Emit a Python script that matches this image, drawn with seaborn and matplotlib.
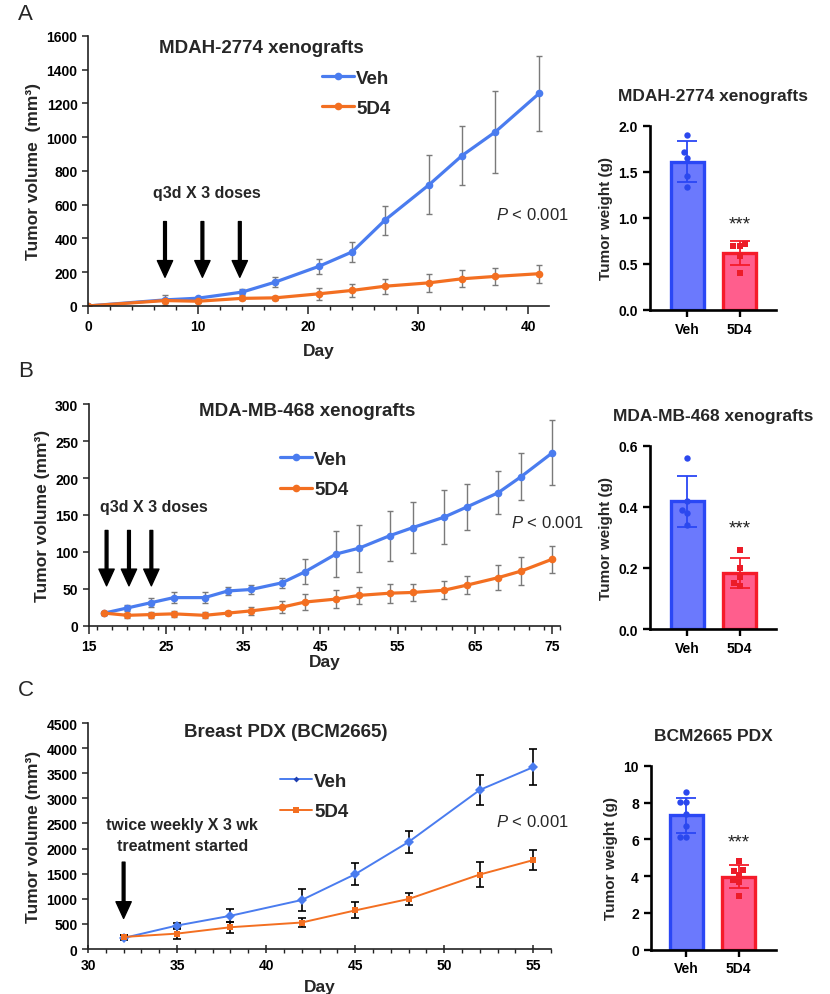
import numpy as np
import pandas as pd
import matplotlib
matplotlib.use('Agg')
import matplotlib.pyplot as plt
import seaborn as sns
from matplotlib.ticker import MultipleLocator

sns.set_style('ticks')
plt.rcParams['font.family'] = ['Liberation Sans', 'DejaVu Sans']
plt.rcParams['font.weight'] = 'bold'
plt.rcParams['axes.labelweight'] = 'bold'
plt.rcParams['mathtext.fontset'] = 'custom'
plt.rcParams['mathtext.it'] = 'Liberation Sans:italic:normal'
plt.rcParams['mathtext.rm'] = 'Liberation Sans:normal'

# ---- data ----
groups = ['Veh', '5D4']

# A: MDAH-2774 tumor volume
days_a = [0, 7, 10, 14, 17, 21, 24, 27, 31, 34, 37, 41]
veh_a = [0, 36, 46, 82, 141, 235, 320, 509, 718, 891, 1030, 1259]
veh_a_err = [0, 28, 10, 18, 30, 44, 60, 86, 175, 174, 242, 222]
d4_a = [0, 32, 28, 45, 48, 72, 92, 117, 137, 161, 175, 191]
d4_a_err = [0, 12, 8, 10, 10, 35, 40, 44, 52, 50, 52, 54]

# B: MDA-MB-468 tumor volume
days_b = [17, 20, 23, 26, 30, 33, 36, 40, 43, 47, 50, 54, 57, 61, 64, 68, 71, 75]
veh_b = [17, 24, 31, 38, 38, 47, 49, 58, 73, 97, 105, 122, 133, 147, 161, 180, 202, 234]
veh_b_err = [2, 4, 6, 7, 7, 6, 6, 7, 17, 31, 32, 34, 35, 37, 31, 29, 32, 44]
d4_b = [17, 14, 15, 16, 14, 17, 20, 25, 32, 36, 41, 44, 45, 48, 55, 65, 74, 90]
d4_b_err = [2, 3, 4, 4, 4, 3, 5, 8, 11, 12, 12, 13, 12, 12, 12, 17, 19, 18]

# C: BCM2665 PDX tumor volume
days_c = [32, 35, 38, 42, 45, 48, 52, 55]
veh_c = [220, 468, 662, 976, 1490, 2133, 3169, 3623]
veh_c_err = [50, 60, 127, 210, 215, 220, 300, 360]
d4_c = [240, 307, 434, 528, 769, 996, 1484, 1771]
d4_c_err = [40, 110, 110, 94, 160, 114, 240, 195]

# tumor weights (individual animals)
wt_a_veh = [1.90, 1.71, 1.65, 1.45, 1.33]
wt_a_d4 = [0.72, 0.69, 0.69, 0.58, 0.40]
wt_b_veh = [0.56, 0.42, 0.39, 0.38, 0.34]
wt_b_d4 = [0.26, 0.20, 0.17, 0.15, 0.14]
wt_c_veh = [8.57, 8.04, 8.04, 7.39, 6.73, 6.15, 6.15]
wt_c_d4 = [4.81, 4.30, 4.28, 4.05, 3.79, 3.65, 2.89]

line_cols = {'Veh': '#4A7CEF', '5D4': '#F36F21'}
bar_fill = {'Veh': '#6B79FD', '5D4': '#FF5E8D'}
bar_edge = {'Veh': '#2A47F5', '5D4': '#F51B2A'}
dot_cols = {'Veh': '#2B48EE', '5D4': '#EC1C28'}

fig = plt.figure(figsize=(8.3, 9.95), dpi=100)


def volume_panel(rect, days, veh, veh_err, d4, d4_err, xlim, ylim, xticks, xmin, ymaj,
                 xlabpad, thin=False):
    ax = fig.add_axes(rect)
    df = pd.DataFrame({'Day': days * 2, 'vol': veh + d4,
                       'group': ['Veh'] * len(days) + ['5D4'] * len(days)})
    if thin:
        ecol, elw = 'black', 1.2
    else:
        ecol, elw = '#7a7a7a', 1.0
    for vals, errs in [(veh, veh_err), (d4, d4_err)]:
        ax.errorbar(days, vals, yerr=errs, fmt='none', ecolor=ecol, elinewidth=elw,
                    capsize=2.5 if not thin else 3, capthick=elw, zorder=1)
    if thin:
        sns.lineplot(data=df, x='Day', y='vol', hue='group', style='group',
                     palette=line_cols, markers={'Veh': 'D', '5D4': 's'}, dashes=False,
                     markersize=5, markeredgewidth=0, linewidth=1.4, ax=ax, zorder=2)
        # smaller, darker diamond for Veh
        ax.lines[-2].set_markersize(3)
        ax.lines[-2].set_markerfacecolor('#1f3fb0')
    else:
        sns.lineplot(data=df, x='Day', y='vol', hue='group', palette=line_cols,
                     marker='o', markersize=5.5, markeredgewidth=0, linewidth=2.3,
                     ax=ax, zorder=2)
    ax.set_xlim(*xlim)
    ax.set_ylim(*ylim)
    ax.set_xticks(xticks)
    ax.xaxis.set_minor_locator(MultipleLocator(xmin))
    ax.yaxis.set_major_locator(MultipleLocator(ymaj))
    ax.tick_params(axis='both', which='major', labelsize=10, length=4, width=1.1,
                   colors='#222222', labelcolor='black')
    ax.tick_params(axis='x', which='major', length=6, direction='inout' if thin else 'out')
    ax.tick_params(axis='x', which='minor', length=3, width=1, colors='#222222')
    for lab in ax.get_xticklabels() + ax.get_yticklabels():
        lab.set_fontweight('bold')
    for s in ['left', 'bottom']:
        ax.spines[s].set_linewidth(1.2)
        ax.spines[s].set_color('#222222')
    sns.despine(ax=ax)
    ax.set_xlabel('Day', fontsize=12.5, labelpad=xlabpad)
    return ax


def place_legend(ax, anchor):
    h, l = ax.get_legend_handles_labels()
    ax.legend(h, l, loc='upper left', bbox_to_anchor=anchor, bbox_transform=ax.transData,
              frameon=False, borderpad=0, borderaxespad=0, handlelength=1.7,
              handletextpad=0.1, labelspacing=0.7, prop={'weight': 'bold', 'size': 13.5})


def weight_panel(rect, veh_pts, d4_pts, ylim, ymaj, fmt, xlim, star_y, title, title_y):
    ax = fig.add_axes(rect)
    df = pd.DataFrame({'group': ['Veh'] * len(veh_pts) + ['5D4'] * len(d4_pts),
                       'w': veh_pts + d4_pts})
    sns.barplot(data=df, x='group', y='w', hue='group', order=groups, palette=bar_fill,
                saturation=1, errorbar=None, width=0.64, linewidth=2.4, legend=False,
                ax=ax, zorder=1)
    for patch, g in zip(ax.patches, groups):
        patch.set_edgecolor(bar_edge[g])
    for i, (g, pts) in enumerate(zip(groups, [veh_pts, d4_pts])):
        ax.errorbar(i, np.mean(pts), yerr=np.std(pts, ddof=1), fmt='none',
                    ecolor=bar_edge[g], elinewidth=1.3, capsize=7.5, capthick=1.3, zorder=3)
    sns.swarmplot(data=df[df.group == 'Veh'], x='group', y='w', order=groups,
                  color=dot_cols['Veh'], marker='o', size=4.6, ax=ax, zorder=4)
    sns.swarmplot(data=df[df.group == '5D4'], x='group', y='w', order=groups,
                  color=dot_cols['5D4'], marker='s', size=4.4, ax=ax, zorder=4)
    ax.set_xlim(*xlim)
    ax.set_ylim(*ylim)
    ax.yaxis.set_major_locator(MultipleLocator(ymaj))
    ax.yaxis.set_major_formatter(fmt)
    ax.tick_params(axis='both', labelsize=10, length=5, width=1.7, colors='black')
    for lab in ax.get_xticklabels() + ax.get_yticklabels():
        lab.set_fontweight('bold')
    for s in ['left', 'bottom']:
        ax.spines[s].set_linewidth(1.9)
        ax.spines[s].set_color('black')
    sns.despine(ax=ax)
    ax.set_xlabel('')
    ax.set_ylabel('Tumor weight (g)', fontsize=11, labelpad=4)
    ax.text(1, star_y, '***', ha='center', va='center', fontsize=13.5,
            fontweight='normal', color='#222222')
    fig.text(0.859, title_y, title, ha='center', va='center', fontsize=12.5,
             fontweight='bold')
    return ax


def arrow(ax, x, top, tip):
    ax.annotate('', xy=(x, tip), xytext=(x, top),
                arrowprops=dict(facecolor='black', edgecolor='black', width=2,
                                headwidth=11, headlength=12, shrink=0))


def pval(ax, x, y):
    ax.text(x, y, r'$\mathit{P}$ < 0.001', fontsize=12, fontweight='normal',
            ha='left', va='center')


# ---------------- Panel A ----------------
ax = volume_panel([0.106, 0.6915, 0.5554, 0.2714], days_a, veh_a, veh_a_err,
                  d4_a, d4_a_err, (0, 41.9), (0, 1600), range(0, 41, 10), 2, 200, 7)
ax.set_ylabel('Tumor volume  (mm³)', fontsize=12.5)
place_legend(ax, (21.3, 1400))
ax.text(15.8, 1530, 'MDAH-2774 xenografts', ha='center', va='center',
        fontsize=13.5, fontweight='bold')
ax.text(10.8, 675, 'q3d X 3 doses', ha='center', va='center', fontsize=11.5,
        fontweight='bold')
for d in [7, 10.4, 13.8]:
    arrow(ax, d, 500, 170)
pval(ax, 37.1, 545)

weight_panel([0.783, 0.6877, 0.1566 - 0.005, 0.1849], wt_a_veh, wt_a_d4, (0, 2.0), 0.5,
             '{x:.1f}', (-0.72, 1.69), 0.93, 'MDAH-2774 xenografts', 0.903)

# ---------------- Panel B ----------------
ax = volume_panel([0.107, 0.3702, 0.5675, 0.2225], days_b, veh_b, veh_b_err,
                  d4_b, d4_b_err, (15, 76), (0, 300), range(15, 76, 10), 2, 50, 1)
ax.set_ylabel('Tumor volume (mm³)', fontsize=12.5)
place_legend(ax, (39.8, 237))
ax.text(43.3, 291, 'MDA-MB-468 xenografts', ha='center', va='center',
        fontsize=13.5, fontweight='bold')
ax.text(23.4, 161, 'q3d X 3 doses', ha='center', va='center', fontsize=11.5,
        fontweight='bold')
for d in [17.3, 20.2, 23.1]:
    arrow(ax, d, 129, 54)
pval(ax, 69.7, 140)

weight_panel([0.783, 0.3668, 0.1516, 0.1842], wt_b_veh, wt_b_d4, (0, 0.6), 0.2,
             '{x:.1f}', (-0.72, 1.69), 0.33, 'MDA-MB-468 xenografts', 0.5812)

# ---------------- Panel C ----------------
ax = volume_panel([0.106, 0.0452, 0.558, 0.2271], days_c, veh_c, veh_c_err,
                  d4_c, d4_c_err, (30, 56), (0, 4500), range(30, 56, 5), 1, 500, 5,
                  thin=True)
ax.set_ylabel('Tumor volume (mm³)', fontsize=12.5)
place_legend(ax, (40.8, 3510))
ax.text(41.1, 4330, 'Breast PDX (BCM2665)', ha='center', va='center',
        fontsize=13.5, fontweight='bold')
ax.text(35.3, 2470, 'twice weekly X 3 wk', ha='center', va='center', fontsize=11.5,
        fontweight='bold')
ax.text(35.3, 2070, 'treatment started', ha='center', va='center', fontsize=11.5,
        fontweight='bold')
arrow(ax, 32, 1730, 610)
pval(ax, 52.9, 2556)

weight_panel([0.784, 0.0447, 0.1506, 0.1847], wt_c_veh, wt_c_d4, (0, 10), 2,
             '{x:.0f}', (-0.68, 1.71), 5.83, 'BCM2665 PDX', 0.2593)

# panel letters
for letter, y in [('A', 0.985), ('B', 0.627), ('C', 0.306)]:
    fig.text(0.022, y, letter, fontsize=16, fontweight='normal', va='center', ha='left')

fig.savefig('out.png', dpi=100)
